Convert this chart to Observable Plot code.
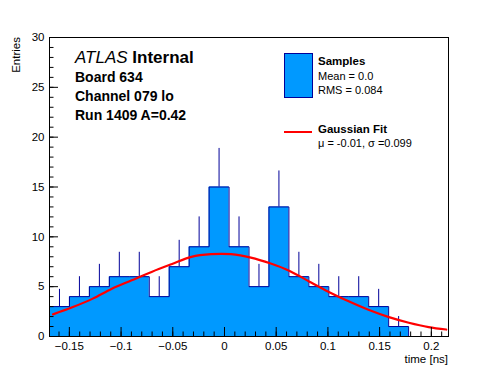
<!DOCTYPE html>
<html>
<head>
<meta charset="utf-8">
<script src="https://cdn.jsdelivr.net/npm/d3@7"></script>
<script src="https://cdn.jsdelivr.net/npm/@observablehq/plot@0.6"></script>
<style>
  html, body { margin: 0; padding: 0; background: #fff; }
  #wrap { position: relative; width: 498px; height: 374px; font-family: "Liberation Sans", Arial, sans-serif; }
  .t { position: absolute; white-space: nowrap; color: #000; line-height: 1; }
  .b { font-weight: bold; }
</style>
</head>
<body>
<div id="wrap"></div>
<script>
// ---- data ----
const xRange = [-0.1692, 0.2166];
const counts = [3, 4, 5, 6, 6, 4, 7, 9, 15, 9, 5, 13, 6, 5, 4, 4, 3, 1, 0, 0];
const errors = [1.73, 2, 2.24, 2.45, 2.45, 2, 2.65, 3, 3.87, 3, 2.24, 3.61, 2.45, 2.24, 2, 2, 1.73, 1, 0, 0];
const fitX = [-0.1658, -0.1466, -0.1274, -0.1089, -0.0897, -0.0705, -0.0513, -0.032, -0.0129, 0.0063, 0.0255, 0.0447, 0.063, 0.0822, 0.1014, 0.1206, 0.1398, 0.159, 0.1782, 0.1974, 0.2144];
const fitY = [2.22, 2.95, 3.8, 4.8, 5.64, 6.48, 7.25, 7.99, 8.26, 8.26, 7.92, 7.32, 6.58, 5.5, 4.45, 3.5, 2.65, 1.94, 1.38, 0.94, 0.7];
const xMajor = [-0.15, -0.1, -0.05, 0, 0.05, 0.1, 0.15, 0.2];
const xMinor = d3.range(-16, 22).map(i => i / 100);
const yMajor = [0, 5, 10, 15, 20, 25, 30];
const yMinor = d3.range(0, 31);
const xTitle = "time [ns]";
const yTitle = "Entries";

// ---- derived tables ----
const nBins = counts.length;
const bw = (xRange[1] - xRange[0]) / nBins;
const edges = d3.range(nBins + 1).map(i => xRange[0] + i * bw);
const steps = edges.map((e, i) => ({x: e, y: counts[Math.min(i, nBins - 1)]}));
const outline = [{x: edges[0], y: 0}, ...steps, {x: edges[nBins], y: 0}];
const errs = counts.map((c, i) => ({x: edges[i] + bw / 2, y1: c, y2: c + errors[i]})).filter(d => d.y2 > d.y1);
const fit = fitX.map((x, i) => ({x, y: fitY[i]}));

const W = 498, H = 374, mL = 49, mR = 50, mT = 37, mB = 38;
const pw = W - mL - mR, ph = H - mT - mB;
const dark = "#000099";

const fmt = d => d === 0 ? "0" : d3.format("")(d).replace("-", "\u2212");

const chart = Plot.plot({
  width: W, height: H,
  marginLeft: mL, marginRight: mR, marginTop: mT, marginBottom: mB,
  style: {fontFamily: "Liberation Sans, Arial, sans-serif", fontSize: "11.5px", background: "#fff", color: "#000"},
  x: {domain: xRange},
  y: {domain: [0, 30]},
  marks: [
    Plot.areaY(steps, {x: "x", y: "y", curve: "step-after", fill: "#0099ff"}),
    Plot.ruleX(errs, {x: "x", y1: "y1", y2: "y2", stroke: dark, strokeWidth: 1}),
    Plot.line(outline, {x: "x", y: "y", curve: "step-after", stroke: dark, strokeWidth: 1}),
    Plot.line(fit, {x: "x", y: "y", curve: "catmull-rom", stroke: "#ff0000", strokeWidth: 2.2}),
    Plot.tickX(xMinor.filter(v => v > xRange[0] && v < xRange[1]), {x: d => d, insetTop: ph - 4.5, stroke: "#000"}),
    Plot.tickX(xMajor, {x: d => d, insetTop: ph - 9, stroke: "#000"}),
    Plot.tickY(yMinor, {y: d => d, insetRight: pw - 4.5, stroke: "#000"}),
    Plot.tickY(yMajor, {y: d => d, insetRight: pw - 9, stroke: "#000"}),
    Plot.frame({stroke: "#000", strokeWidth: 1}),
    Plot.axisX(xMajor, {tickSize: 0, tickPadding: 5.5, tickFormat: fmt, label: null, fontSize: 11.5}),
    Plot.axisY(yMajor, {tickSize: 0, tickPadding: 5, tickFormat: d => String(d), label: null, fontSize: 11.5})
  ]
});
const wrap = document.getElementById("wrap");
wrap.appendChild(chart);

function addText(html, left, top, size, cls, extra) {
  const d = document.createElement("div");
  d.className = "t" + (cls ? " " + cls : "");
  d.style.left = left + "px"; d.style.top = top + "px"; d.style.fontSize = size + "px";
  if (extra) Object.assign(d.style, extra);
  d.innerHTML = html;
  wrap.appendChild(d);
  return d;
}
// axis titles
addText(xTitle, 0, 354, 11.5, "", {left: "auto", right: (W - 448) + "px"});
addText(yTitle, 0, 37, 11.5, "", {transform: "rotate(-90deg)", transformOrigin: "right top", left: "-25px", top: "37px"});

// ATLAS label block
addText('<i>ATLAS</i> <b>Internal</b>', 75, 48.5, 17, "");
addText("Board 634", 75, 70, 14, "b");
addText("Channel 079 lo", 75, 89, 14, "b");
addText("Run 1409 A=0.42", 75, 108, 14, "b");

// legend
const box = document.createElement("div");
Object.assign(box.style, {position: "absolute", left: "284px", top: "53px", width: "27px", height: "43px", background: "#0099ff", border: "1px solid " + dark});
wrap.appendChild(box);
addText("Samples", 318, 56, 11.5, "b");
addText("Mean = 0.0", 318, 71, 11, "");
addText("RMS = 0.084", 318, 85, 11, "");
const ln = document.createElement("div");
Object.assign(ln.style, {position: "absolute", left: "284px", top: "131px", width: "28px", height: "2px", background: "#ff0000"});
wrap.appendChild(ln);
addText("Gaussian Fit", 318, 124, 11.5, "b");
addText("\u03bc = -0.01, \u03c3 =0.099", 318, 138, 11, "");
</script>
</body>
</html>
